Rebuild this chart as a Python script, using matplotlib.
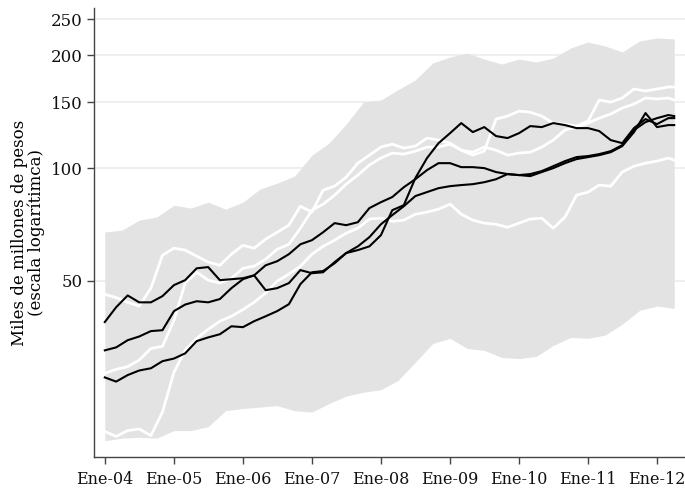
import matplotlib
matplotlib.use("Agg")
import matplotlib.pyplot as plt
import matplotlib.ticker as mticker
import pandas as pd

# band: quarterly observations, Jan-2004 .. Apr-2012
band_dates = pd.date_range("2004-01-01", periods=34, freq="QS")
band_upper = [67.5, 68.3, 72.6, 74.0, 79.6, 78.2, 81.1, 77.7, 81.1, 87.9, 91.2, 95.2,
              108.3, 116.6, 131.1, 150.1, 152.0, 162.0, 172.0, 190.9, 198.1, 203.0,
              195.6, 189.7, 195.6, 192.0, 196.8, 209.4, 217.2, 212.0, 204.3, 218.6,
              222.7, 221.3]
band_lower = [18.7, 19.0, 19.1, 19.0, 19.9, 19.9, 20.4, 22.5, 22.8, 23.0, 23.2, 22.5,
              22.3, 23.5, 24.6, 25.2, 25.6, 27.1, 30.3, 34.0, 35.1, 33.0, 32.6, 31.2,
              31.0, 31.4, 33.6, 35.3, 35.1, 35.8, 38.3, 41.7, 42.8, 42.2]

# lines: bimonthly observations, Jan-2004 .. Mar-2012, plus Apr-2012
line_dates = list(pd.date_range("2004-01-01", periods=50, freq="2MS")) + \
    [pd.Timestamp("2012-04-01")]

white_1 = [46.0, 45.1, 43.8, 42.8, 47.8, 58.5, 61.1, 60.4, 58.2, 56.1,
           55.0, 58.9, 62.2, 61.1, 64.6, 67.4, 70.4, 79.1, 76.3, 87.3,
           89.5, 94.6, 103.1, 108.3, 113.8, 115.9, 113.1, 114.5, 120.3, 118.8,
           116.6, 111.7, 108.3, 111.0, 135.2, 137.7, 142.0, 141.1, 137.7, 131.9,
           131.1, 129.5, 133.5, 152.0, 150.1, 153.9, 162.7, 160.7, 162.7, 164.7, 164.7]
white_2 = [28.3, 29.0, 29.5, 30.7, 33.0, 33.4, 39.2, 49.3, 52.7, 50.2,
           49.3, 50.8, 54.0, 54.7, 57.1, 60.7, 62.6, 69.1, 77.2, 80.1,
           84.7, 90.6, 95.8, 101.9, 106.4, 109.7, 109.0, 111.0, 113.8, 113.8,
           115.9, 111.7, 110.3, 113.8, 111.7, 108.3, 109.7, 110.3, 113.8, 118.8,
           126.4, 128.7, 131.9, 136.0, 139.5, 144.7, 148.3, 153.9, 153.0, 153.9, 152.0]
white_3 = [19.8, 19.2, 19.9, 20.1, 19.3, 22.3, 28.5, 32.6, 35.1, 37.1,
           39.0, 40.2, 41.9, 43.8, 46.4, 49.9, 52.1, 54.7, 58.9, 61.8,
           64.2, 67.0, 69.1, 73.1, 73.5, 72.1, 72.6, 75.3, 76.3, 77.7,
           80.1, 75.3, 72.6, 71.3, 70.8, 69.5, 71.3, 73.1, 73.5, 69.1,
           74.0, 84.7, 86.3, 90.1, 89.5, 97.6, 101.2, 103.1, 104.4, 106.4, 105.0]

black_1 = [38.8, 42.5, 45.7, 43.8, 43.8, 45.5, 48.7, 50.2, 54.0, 54.4,
           50.2, 50.5, 50.8, 51.7, 47.2, 47.8, 49.3, 53.4, 52.4, 52.7,
           56.1, 59.3, 60.4, 61.8, 66.2, 77.2, 79.6, 94.0, 106.4, 116.6,
           124.0, 131.9, 124.8, 128.7, 121.8, 120.3, 124.0, 129.5, 128.7, 131.9,
           130.3, 127.9, 127.9, 125.6, 118.8, 116.6, 127.9, 135.2, 131.1, 136.0, 136.0]
black_2 = [32.6, 33.2, 34.7, 35.5, 36.7, 36.9, 41.5, 43.2, 44.1, 43.8,
           44.7, 47.8, 50.5, 51.7, 55.0, 56.4, 58.9, 62.6, 64.2, 67.4,
           71.3, 70.4, 71.7, 78.2, 81.1, 83.7, 88.9, 93.4, 98.8, 103.1,
           103.1, 100.6, 100.6, 100.0, 97.6, 96.4, 95.8, 96.4, 98.2, 101.2,
           104.4, 107.0, 107.7, 109.0, 111.0, 115.2, 126.4, 132.7, 136.0, 138.6, 137.7]
black_3 = [27.6, 26.9, 28.0, 28.8, 29.2, 30.5, 31.0, 32.0, 34.5, 35.3,
           36.0, 37.8, 37.6, 39.0, 40.2, 41.5, 43.3, 49.0, 52.7, 53.1,
           55.7, 59.3, 61.8, 65.4, 70.8, 74.9, 79.1, 84.2, 86.3, 88.4,
           89.5, 90.1, 90.6, 91.7, 93.4, 96.4, 95.8, 95.2, 97.6, 100.0,
           103.1, 105.7, 107.0, 108.3, 110.3, 114.5, 124.8, 140.3, 128.7, 130.3, 130.3]

tick_years = list(range(2004, 2013))
tick_labels = ["Ene-04", "Ene-05", "Ene-06", "Ene-07", "Ene-08", "Ene-09",
               "Ene-10", "Ene-11", "Ene-12"]
y_ticks = [50, 100, 150, 200, 250]

plt.rcParams["font.family"] = ["DejaVu Serif"]

fig = plt.figure(figsize=(6.85, 4.90), dpi=100)
ax = fig.add_axes([0.137, 0.067, 0.863, 0.917])

ax.set_yscale("log")
ax.set_ylim(16.9, 268)
ax.set_xlim(pd.Timestamp("2003-11-04"), pd.Timestamp("2012-05-28"))

for v in y_ticks:
    ax.axhline(v, color="#e6eef2", lw=1.2, zorder=0)

ax.fill_between(band_dates, band_lower, band_upper, color="#e3e3e3", lw=0, zorder=1)

for s in (white_1, white_2, white_3):
    ax.plot(line_dates, s, color="white", lw=2.0, zorder=2, solid_joinstyle="round")
for s in (black_1, black_2, black_3):
    ax.plot(line_dates, s, color="black", lw=1.5, zorder=3, solid_joinstyle="round")

ax.yaxis.set_major_locator(mticker.FixedLocator(y_ticks))
ax.yaxis.set_major_formatter(mticker.FixedFormatter([str(v) for v in y_ticks]))
ax.yaxis.set_minor_locator(mticker.NullLocator())
ax.set_xticks([pd.Timestamp(f"{y}-01-01") for y in tick_years])
ax.set_xticklabels(tick_labels)

for sp in ("top", "right"):
    ax.spines[sp].set_visible(False)
for sp in ("left", "bottom"):
    ax.spines[sp].set_color("#444444")
    ax.spines[sp].set_linewidth(1.0)

ax.tick_params(axis="both", direction="out", length=5, width=1, color="#444444",
               labelsize=11.5, labelcolor="#111111")
ax.tick_params(axis="y", pad=3, labelsize=12)
ax.tick_params(axis="x", pad=5)

ax.set_ylabel("Miles de millones de pesos\n(escala logarítimca)", fontsize=12,
              linespacing=1.0, labelpad=4)

fig.savefig("out.png", dpi=100)
